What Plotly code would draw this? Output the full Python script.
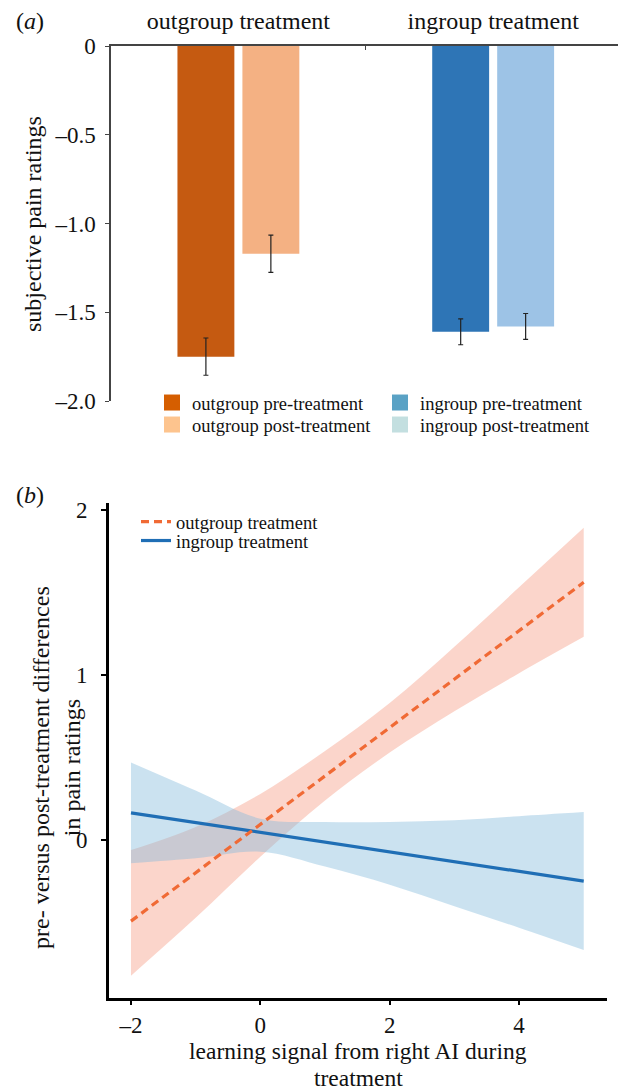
import plotly.graph_objects as go

# ---------------- data: panel (a) ----------------
categories = ["outgroup treatment", "ingroup treatment"]
pre_values = [-1.75, -1.61]
post_values = [-1.17, -1.58]
pre_errors = [0.105, 0.073]
post_errors = [0.105, 0.073]
bar_y_ticks = [0, -0.5, -1.0, -1.5, -2.0]
bar_y_labels = ["0", "–0.5", "–1.0", "–1.5", "–2.0"]
legend_a_names = ["outgroup pre-treatment", "outgroup post-treatment",
                  "ingroup pre-treatment", "ingroup post-treatment"]

# ---------------- data: panel (b) ----------------
signal_x = [-2, -1, 0, 1, 2, 3, 4, 5]
out_fit = [-0.49, -0.197, 0.096, 0.389, 0.681, 0.974, 1.267, 1.56]
out_upper = [-0.06, 0.08, 0.28, 0.54, 0.83, 1.17, 1.53, 1.89]
out_lower = [-0.82, -0.47, -0.10, 0.24, 0.53, 0.78, 1.01, 1.23]
in_fit = [0.165, 0.106, 0.047, -0.012, -0.071, -0.130, -0.189, -0.248]
in_upper = [0.47, 0.30, 0.13, 0.11, 0.11, 0.12, 0.145, 0.17]
in_lower = [-0.14, -0.11, -0.07, -0.16, -0.27, -0.40, -0.53, -0.665]
line_x_ticks = [-2, 0, 2, 4]
line_x_labels = ["–2", "0", "2", "4"]
line_y_ticks = [0, 1, 2]
line_y_labels = ["0", "1", "2"]
legend_b_names = ["outgroup treatment", "ingroup treatment"]
x_title_lines = ["learning signal from right AI during", "treatment"]

# ---------------- styles ----------------
W, H = 618, 1092
FONT = "Liberation Serif"
pre_colors = ["#C55A11", "#2E75B6"]
post_colors = ["#F4B183", "#9DC3E6"]
legend_a_colors = ["#D55E00", "#FDC48E", "#5AA2C5", "#C3DFE0"]
orange_line = "#F06A35"
blue_line = "#1F6EB5"
orange_fill = "rgba(245,150,125,0.40)"
blue_fill = "rgba(130,185,220,0.42)"


def px_x(p):
    return p / W


def px_y(p):
    return 1 - p / H


fig = go.Figure()

# bars
err_style = dict(type="data", color="#222222", thickness=1.2, width=2.5, visible=True)
fig.add_trace(go.Bar(x=categories, y=pre_values, marker=dict(color=pre_colors, line=dict(width=0)),
                     error_y=dict(array=pre_errors, **err_style), showlegend=False,
                     xaxis="x", yaxis="y", hoverinfo="skip"))
fig.add_trace(go.Bar(x=categories, y=post_values, marker=dict(color=post_colors, line=dict(width=0)),
                     error_y=dict(array=post_errors, **err_style), showlegend=False,
                     xaxis="x", yaxis="y", hoverinfo="skip"))

# legend entries for panel (a)
legend_a_ids = ["legend", "legend2", "legend3", "legend4"]
for name, col, lid in zip(legend_a_names, legend_a_colors, legend_a_ids):
    fig.add_trace(go.Scatter(x=[None], y=[None], mode="markers", name=name,
                             marker=dict(symbol="square", size=16, color=col, line=dict(width=0)),
                             legend=lid, xaxis="x", yaxis="y"))

# panel (b) confidence bands (smooth edges)
band_line = dict(width=0, shape="spline", smoothing=1.0)
fig.add_trace(go.Scatter(x=signal_x, y=out_upper, mode="lines", line=band_line,
                         showlegend=False, xaxis="x2", yaxis="y2", hoverinfo="skip"))
fig.add_trace(go.Scatter(x=signal_x, y=out_lower, mode="lines", line=band_line,
                         fill="tonexty", fillcolor=orange_fill,
                         showlegend=False, xaxis="x2", yaxis="y2", hoverinfo="skip"))
fig.add_trace(go.Scatter(x=signal_x, y=in_upper, mode="lines", line=band_line,
                         showlegend=False, xaxis="x2", yaxis="y2", hoverinfo="skip"))
fig.add_trace(go.Scatter(x=signal_x, y=in_lower, mode="lines", line=band_line,
                         fill="tonexty", fillcolor=blue_fill,
                         showlegend=False, xaxis="x2", yaxis="y2", hoverinfo="skip"))
# panel (b) fitted lines
fig.add_trace(go.Scatter(x=signal_x, y=in_fit, mode="lines", name=legend_b_names[1],
                         line=dict(color=blue_line, width=3.2), legend="legend6",
                         xaxis="x2", yaxis="y2"))
fig.add_trace(go.Scatter(x=signal_x, y=out_fit, mode="lines", name=legend_b_names[0],
                         line=dict(color=orange_line, width=3.2, dash="8px,5px"), legend="legend5",
                         xaxis="x2", yaxis="y2"))

tick_font = dict(family=FONT, size=23, color="#111111")
legend_common = dict(bgcolor="rgba(0,0,0,0)", borderwidth=0, xanchor="left", yanchor="middle",
                     font=dict(family=FONT, size=18.5, color="#111111"), itemclick=False,
                     itemdoubleclick=False)

layout_legends = {}
a_pos = [(152, 403), (152, 425), (380, 403), (380, 425)]
for lid, (lx, ly) in zip(legend_a_ids, a_pos):
    layout_legends[lid] = dict(x=px_x(lx), y=px_y(ly), **legend_common)
layout_legends["legend5"] = dict(x=px_x(136), y=px_y(522), **legend_common)
layout_legends["legend6"] = dict(x=px_x(136), y=px_y(541), **legend_common)

fig.update_layout(
    width=W, height=H,
    margin=dict(l=0, r=0, t=0, b=0, pad=0, autoexpand=False),
    paper_bgcolor="white", plot_bgcolor="white",
    font=dict(family=FONT, size=20, color="#111111"),
    barmode="group", bargap=0.49, bargroupgap=0.124,
    xaxis=dict(domain=[px_x(111), 1.0], anchor="y", side="top", type="category",
               range=[-0.5, 1.49], showline=True, linecolor="#444444", linewidth=1.8,
               ticks="inside", ticklen=4, tickcolor="#444444", tickson="boundaries",
               showgrid=False, zeroline=False, tickfont=dict(family=FONT, size=24, color="#111111"),
               ticklabelstandoff=6, automargin=False),
    yaxis=dict(domain=[px_y(401), px_y(46)], anchor="x", range=[-2.0, 0],
               tickvals=bar_y_ticks, ticktext=bar_y_labels, showline=True,
               linecolor="#444444", linewidth=1.5, ticks="outside", ticklen=4,
               tickcolor="#444444", showgrid=False, zeroline=False, tickfont=tick_font,
               ticklabelstandoff=5, automargin=False),
    xaxis2=dict(domain=[px_x(109), px_x(607)], anchor="y2", range=[-2.34, 5.36],
                tickvals=line_x_ticks, ticktext=line_x_labels, showline=True,
                linecolor="#000000", linewidth=3, ticks="outside", ticklen=4, tickwidth=1.5,
                tickcolor="#000000", showgrid=False, zeroline=False, tickfont=tick_font,
                ticklabelstandoff=0, automargin=False),
    yaxis2=dict(domain=[px_y(998), px_y(503)], anchor="x2", range=[-0.955, 2.04],
                tickvals=line_y_ticks, ticktext=line_y_labels, showline=True,
                linecolor="#000000", linewidth=3, ticks="outside", ticklen=5, tickwidth=1.5,
                tickcolor="#000000", showgrid=False, zeroline=False, tickfont=tick_font,
                ticklabelstandoff=9, automargin=False),
    **layout_legends,
)

title_font = dict(family=FONT, size=24, color="#111111")
xtitle_font = dict(family=FONT, size=23.5, color="#111111")
annotations = [
    dict(text="(<i>a</i>)", x=px_x(30), y=px_y(21), xref="paper", yref="paper",
         showarrow=False, font=title_font, xanchor="center", yanchor="middle"),
    dict(text="(<i>b</i>)", x=px_x(30), y=px_y(495), xref="paper", yref="paper",
         showarrow=False, font=title_font, xanchor="center", yanchor="middle"),
    dict(text="subjective pain ratings", x=px_x(33), y=px_y(224), xref="paper", yref="paper",
         showarrow=False, font=title_font, textangle=-90, xanchor="center", yanchor="middle"),
    dict(text="pre- versus post-treatment differences<br>in pain ratings", x=px_x(56),
         y=px_y(768), xref="paper", yref="paper", showarrow=False, font=title_font,
         textangle=-90, xanchor="center", yanchor="middle"),
    dict(text=x_title_lines[0], x=px_x(358), y=px_y(1051), xref="paper", yref="paper",
         showarrow=False, font=xtitle_font, xanchor="center", yanchor="middle", borderpad=0),
    dict(text=x_title_lines[1], x=px_x(358), y=px_y(1078), xref="paper", yref="paper",
         showarrow=False, font=xtitle_font, xanchor="center", yanchor="middle", borderpad=0),
]
fig.update_layout(annotations=annotations)

fig.write_html("out.html", config={"displayModeBar": False},
               post_script="document.body.style.margin='0px';")
